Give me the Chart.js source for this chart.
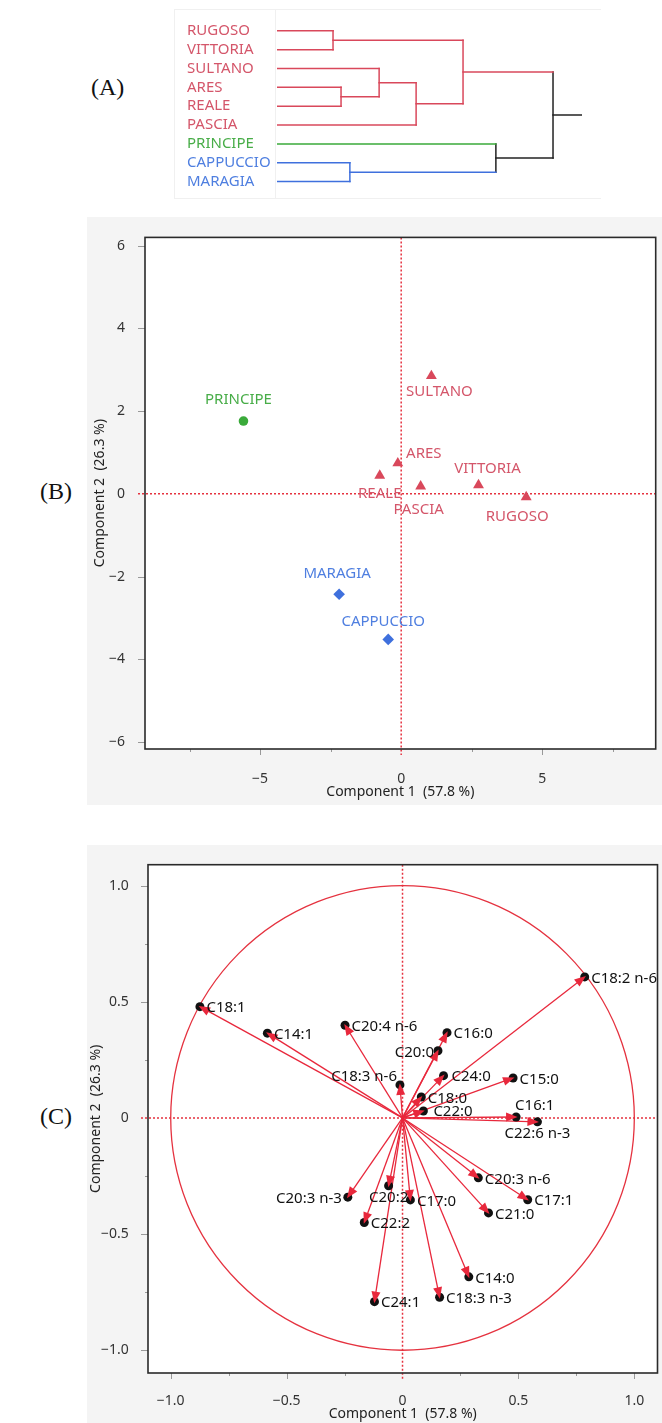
<!DOCTYPE html>
<html>
<head>
<meta charset="utf-8">
<script src="https://cdn.jsdelivr.net/npm/chart.js@4.4.0/dist/chart.umd.min.js"></script>
<style>
  body { margin: 0; background: #fff; width: 662px; height: 1423px; position: relative; overflow: hidden; }
  .tag { position: absolute; font-family: "Liberation Serif", serif; font-size: 24px; line-height: 24px; color: #111; }
  .panel { position: absolute; left: 87px; width: 575px; background: #f4f4f4; }
  .box { position: absolute; left: 174px; top: 9px; width: 426px; height: 188px; border: 1px solid #f0f0f0; border-right: none; }
  .sep { position: absolute; left: 275px; top: 9px; width: 1px; height: 189px; background: #f0f0f0; }
  canvas { position: absolute; display: block; }
</style>
</head>
<body>
<div class="box"></div>
<div class="sep"></div>
<div class="panel" style="top:217px;height:588px"></div>
<div class="panel" style="top:845px;height:578px"></div>
<div class="tag" style="left:91px;top:75px">(A)</div>
<div class="tag" style="left:40px;top:479px">(B)</div>
<div class="tag" style="left:40px;top:1104px">(C)</div>

<canvas id="dendro" width="420" height="200" style="left:180px;top:0px"></canvas>
<canvas id="scores" width="575" height="588" style="left:87px;top:217px"></canvas>
<canvas id="loadings" width="575" height="578" style="left:87px;top:845px"></canvas>

<script>
// (A) cluster tree, leaves top to bottom
const leafNames = ['RUGOSO', 'VITTORIA', 'SULTANO', 'ARES', 'REALE', 'PASCIA', 'PRINCIPE', 'CAPPUCCIO', 'MARAGIA'];
const leafGroup = [0, 0, 0, 0, 0, 0, 1, 2, 2];
// merges: node ids 0-8 are leaves, merge k creates node 9+k
const mergeLeft = [0, 3, 2, 11, 9, 7, 6, 13];
const mergeRight = [1, 4, 10, 5, 12, 8, 14, 15];
const mergeHeight = [2.03, 2.32, 3.70, 5.04, 6.74, 2.64, 7.93, 10.0];
const rootTail = 11.05;

// (B) scores
const cultivars = ['PRINCIPE', 'SULTANO', 'ARES', 'REALE', 'PASCIA', 'VITTORIA', 'RUGOSO', 'MARAGIA', 'CAPPUCCIO'];
const cultivarGroup = [1, 0, 0, 0, 0, 0, 0, 2, 2];
const pc1Scores = [-5.59, 1.07, -0.12, -0.76, 0.69, 2.74, 4.43, -2.20, -0.46];
const pc2Scores = [1.76, 2.85, 0.74, 0.44, 0.18, 0.21, -0.08, -2.43, -3.52];
const scoreTicksX = [-7.5, -5, -2.5, 0, 2.5, 5, 7.5];
const scoreTicksY = [-6, -4, -2, 0, 2, 4, 6];

// (C) loadings
const acids = ['C18:1', 'C14:1', 'C20:4 n-6', 'C16:0', 'C20:0', 'C18:2 n-6', 'C18:3 n-6', 'C24:0', 'C15:0', 'C18:0', 'C22:0', 'C16:1',
  'C22:6 n-3', 'C20:3 n-6', 'C17:1', 'C21:0', 'C20:3 n-3', 'C20:2', 'C17:0', 'C22:2', 'C14:0', 'C18:3 n-3', 'C24:1'];
const load1 = [-0.874, -0.583, -0.248, 0.192, 0.153, 0.786, -0.011, 0.177, 0.477, 0.081, 0.090, 0.490,
  0.582, 0.327, 0.540, 0.371, -0.236, -0.060, 0.034, -0.165, 0.286, 0.160, -0.121];
const load2 = [0.479, 0.365, 0.399, 0.367, 0.289, 0.607, 0.142, 0.182, 0.172, 0.090, 0.030, 0.004,
  -0.017, -0.258, -0.352, -0.409, -0.341, -0.292, -0.353, -0.450, -0.684, -0.772, -0.791];
const loadTicks = [-1, -0.75, -0.5, -0.25, 0, 0.25, 0.5, 0.75, 1];

const groupLine = ['#d9485b', '#3aaa3a', '#3f70dd'];
const groupText = ['#d4566a', '#48ad48', '#4f7fe0'];
const refRed = '#e5323f';

Chart.defaults.font.family = '"Noto Sans", sans-serif';
Chart.defaults.font.size = 14;
Chart.defaults.color = '#333';

// ---------- (A) ----------
const nodeY = leafNames.map((_, i) => i);
const nodeH = leafNames.map(() => 0);
const nodeG = leafGroup.slice();
const dendroSets = [];
function seg(pts, g) {
  dendroSets.push({ data: pts, showLine: true, pointRadius: 0, borderWidth: 1.5, borderCapStyle: 'square',
    borderColor: g < 0 ? '#222' : groupLine[g] });
}
mergeLeft.forEach((a, k) => {
  const b = mergeRight[k], h = mergeHeight[k];
  const g = nodeG[a] === nodeG[b] ? nodeG[a] : -1;
  seg([{ x: nodeH[a], y: nodeY[a] }, { x: h, y: nodeY[a] }], nodeG[a]);
  seg([{ x: nodeH[b], y: nodeY[b] }, { x: h, y: nodeY[b] }], nodeG[b]);
  seg([{ x: h, y: nodeY[a] }, { x: h, y: nodeY[b] }], g);
  nodeY.push((nodeY[a] + nodeY[b]) / 2);
  nodeH.push(h);
  nodeG.push(g);
});
const root = nodeY.length - 1;
seg([{ x: nodeH[root], y: nodeY[root] }, { x: rootTail, y: nodeY[root] }], -1);

new Chart(document.getElementById('dendro'), {
  type: 'scatter',
  data: { datasets: dendroSets },
  options: {
    responsive: false, animation: false,
    layout: { padding: { left: 7, top: 21.4, right: 18, bottom: 6.5 } },
    plugins: { legend: { display: false }, tooltip: { enabled: false } },
    scales: {
      x: { type: 'linear', min: 0, max: rootTail, display: false },
      y: {
        type: 'linear', min: -0.5, max: 8.5, reverse: true,
        grid: { display: false }, border: { display: false },
        afterBuildTicks: s => { s.ticks = leafNames.map((_, i) => ({ value: i })); },
        afterFit: s => { s.width = 90; },
        ticks: { crossAlign: 'far', padding: 0, autoSkip: false, font: { size: 15 },
          callback: v => leafNames[v], color: c => groupText[leafGroup[c.index]] }
      }
    }
  }
});

// ---------- shared plot decorations ----------
function plotDeco(opts) {
  return {
    id: 'deco',
    beforeDraw(chart) {
      const { ctx, chartArea: a } = chart;
      ctx.save();
      ctx.fillStyle = '#fff';
      ctx.fillRect(a.left, a.top, a.width, a.height);
      ctx.restore();
    },
    beforeDatasetsDraw(chart) {
      const { ctx, chartArea: a, scales: { x, y } } = chart;
      const x0 = x.getPixelForValue(0), y0 = y.getPixelForValue(0);
      ctx.save();
      if (opts.circle) {
        ctx.strokeStyle = refRed;
        ctx.lineWidth = 1.3;
        ctx.beginPath();
        ctx.ellipse(x0, y0, x.getPixelForValue(1) - x0, y0 - y.getPixelForValue(1), 0, 0, Math.PI * 2);
        ctx.stroke();
      }
      ctx.strokeStyle = refRed;
      ctx.lineWidth = 1.5;
      ctx.setLineDash([2, 2]);
      ctx.beginPath();
      ctx.moveTo(x0, a.top); ctx.lineTo(x0, a.bottom + 6);
      ctx.moveTo(a.left - 7, y0); ctx.lineTo(a.right, y0);
      ctx.stroke();
      ctx.restore();
    },
    afterDraw(chart) {
      const { ctx, chartArea: a, scales: { x, y } } = chart;
      ctx.save();
      ctx.strokeStyle = '#999';
      ctx.lineWidth = 1;
      ctx.beginPath();
      x.ticks.forEach(t => {
        if (t.value === 0) return;
        const px = Math.round(x.getPixelForValue(t.value)) + 0.5;
        ctx.moveTo(px, a.bottom);
        ctx.lineTo(px, a.bottom + (t.label === '' ? 3 : 6));
      });
      y.ticks.forEach(t => {
        if (t.value === 0) return;
        const py = Math.round(y.getPixelForValue(t.value)) + 0.5;
        ctx.moveTo(a.left, py);
        ctx.lineTo(a.left - (t.label === '' ? 3 : 7), py);
      });
      ctx.stroke();
      ctx.strokeStyle = '#2a2a2a';
      ctx.lineWidth = 1.6;
      ctx.strokeRect(a.left, a.top, a.width, a.height);
      ctx.restore();
    }
  };
}

function axisTitle(text, pad) {
  return { display: true, text: text, color: '#222', font: { size: 14 }, padding: pad };
}

// ---------- (B) ----------
const fmtB = v => (v < 0 ? '\u2212' : '') + Math.abs(v);
const scoreLabelShift = [[-5, -21], [8, 16], [26, -9], [0, 18], [-2, 23], [9, -16], [-9, 20], [-2, -21], [-5, -18]];
const styleByGroup = ['triangle', 'circle', 'rectRot'];
const radiusByGroup = [6.3, 4.8, 5.8];

new Chart(document.getElementById('scores'), {
  type: 'scatter',
  data: {
    datasets: [{
      data: pc1Scores.map((v, i) => ({ x: v, y: pc2Scores[i] })),
      pointStyle: cultivarGroup.map(g => styleByGroup[g]),
      pointRadius: cultivarGroup.map(g => radiusByGroup[g]),
      pointBackgroundColor: cultivarGroup.map(g => groupLine[g]),
      pointBorderWidth: 0
    }]
  },
  options: {
    responsive: false, animation: false,
    layout: { padding: { left: 0, top: 15, right: 3, bottom: 0 } },
    plugins: { legend: { display: false }, tooltip: { enabled: false } },
    scales: {
      x: {
        type: 'linear', min: -9.08, max: 9.02,
        grid: { display: false }, border: { display: false },
        afterBuildTicks: s => { s.ticks = scoreTicksX.map(v => ({ value: v })); },
        afterFit: s => { s.height = 56; },
        ticks: { padding: 13.5, autoSkip: false, maxRotation: 0, callback: v => (v % 5 === 0 ? fmtB(v) : '') },
        title: axisTitle('Component 1  (57.8 %)', { top: 0, bottom: 4.9 })
      },
      y: {
        type: 'linear', min: -6.17, max: 6.2,
        grid: { display: false }, border: { display: false },
        afterBuildTicks: s => { s.ticks = scoreTicksY.map(v => ({ value: v })); },
        afterFit: s => { s.width = 58; },
        ticks: { padding: 12, autoSkip: false, callback: v => fmtB(v) },
        title: axisTitle('Component 2  (26.3 %)', { top: 4.6, bottom: 0 })
      }
    }
  },
  plugins: [plotDeco({ circle: false }), {
    id: 'names',
    afterDatasetsDraw(chart) {
      const ctx = chart.ctx;
      const pts = chart.getDatasetMeta(0).data;
      ctx.save();
      ctx.font = '15px "Noto Sans", sans-serif';
      ctx.textAlign = 'center';
      ctx.textBaseline = 'middle';
      pts.forEach((p, i) => {
        ctx.fillStyle = groupText[cultivarGroup[i]];
        ctx.fillText(cultivars[i], p.x + scoreLabelShift[i][0], p.y + scoreLabelShift[i][1]);
      });
      ctx.restore();
    }
  }]
});

// ---------- (C) ----------
const fmtC = v => {
  if (Math.abs(v * 2 - Math.round(v * 2)) > 1e-9) return '';
  if (v === 0) return '0';
  return (v < 0 ? '\u2212' : '') + Math.abs(v).toFixed(1);
};
const acidLabelPlace = {
  'C20:0': [-4, 1.5, 'right'], 'C18:3 n-6': [-3, -8, 'right'], 'C16:1': [-1, -11, 'left'],
  'C22:6 n-3': [0, 12, 'center'], 'C20:3 n-3': [-6, 1.5, 'right'], 'C20:2': [0, 12, 'center'],
  'C22:0': [10, 0.5, 'left'], 'C24:0': [8, 1, 'left']
};
const vectorRed = '#e8283c';

const loadDatasets = [{
  data: load1.map((v, i) => ({ x: v, y: load2[i] })),
  pointRadius: 4.5, pointBackgroundColor: '#111', pointBorderWidth: 0
}].concat(acids.map((n, i) => ({
  data: [{ x: 0, y: 0 }, { x: load1[i], y: load2[i] }],
  showLine: true, pointRadius: 0, borderWidth: 1.3, borderColor: vectorRed
})));

new Chart(document.getElementById('loadings'), {
  type: 'scatter',
  data: { datasets: loadDatasets },
  options: {
    responsive: false, animation: false,
    layout: { padding: { left: 0, top: 16, right: 2, bottom: 0 } },
    plugins: { legend: { display: false }, tooltip: { enabled: false } },
    scales: {
      x: {
        type: 'linear', min: -1.098, max: 1.1,
        grid: { display: false }, border: { display: false },
        afterBuildTicks: s => { s.ticks = loadTicks.map(v => ({ value: v })); },
        afterFit: s => { s.height = 50; },
        ticks: { padding: 11.6, autoSkip: false, maxRotation: 0, callback: fmtC },
        title: axisTitle('Component 1  (57.8 %)', { top: 0, bottom: 1 })
      },
      y: {
        type: 'linear', min: -1.098, max: 1.09,
        grid: { display: false }, border: { display: false },
        afterBuildTicks: s => { s.ticks = loadTicks.map(v => ({ value: v })); },
        afterFit: s => { s.width = 61; },
        ticks: { padding: 11.3, autoSkip: false, callback: fmtC },
        title: axisTitle('Component 2  (26.3 %)', { top: 1, bottom: 0 })
      }
    }
  },
  plugins: [plotDeco({ circle: true }), {
    id: 'arrows',
    afterDatasetsDraw(chart) {
      const { ctx, scales: { x, y } } = chart;
      const ox = x.getPixelForValue(0), oy = y.getPixelForValue(0);
      ctx.save();
      ctx.fillStyle = vectorRed;
      acids.forEach((n, i) => {
        const px = x.getPixelForValue(load1[i]), py = y.getPixelForValue(load2[i]);
        const ang = Math.atan2(py - oy, px - ox);
        const c = Math.cos(ang), s = Math.sin(ang);
        const bx = px - 10 * c, by = py - 10 * s;
        ctx.beginPath();
        ctx.moveTo(px + 1.5 * c, py + 1.5 * s);
        ctx.lineTo(bx - 4.5 * s, by + 4.5 * c);
        ctx.lineTo(bx + 4.5 * s, by - 4.5 * c);
        ctx.closePath();
        ctx.fill();
      });
      ctx.font = '15px "Noto Sans", sans-serif';
      ctx.textBaseline = 'middle';
      ctx.fillStyle = '#111';
      acids.forEach((n, i) => {
        const px = x.getPixelForValue(load1[i]), py = y.getPixelForValue(load2[i]);
        const place = acidLabelPlace[n] || [6.5, 1.5, 'left'];
        ctx.textAlign = place[2];
        ctx.fillText(n, px + place[0], py + place[1]);
      });
      ctx.restore();
    }
  }]
});
</script>
</body>
</html>
